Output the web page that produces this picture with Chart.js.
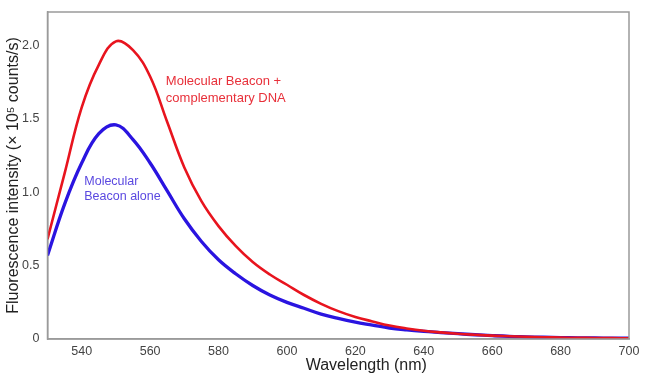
<!DOCTYPE html>
<html><head><meta charset="utf-8">
<script src="https://cdn.jsdelivr.net/npm/chart.js@4/dist/chart.umd.min.js"></script>
<style>html,body{margin:0;padding:0;background:#fff}#wrap{width:650px;height:382px;position:relative}</style>
</head><body><div id="wrap"><canvas id="c"></canvas></div>
<script>
const wavelengths = [530,535,540,545,550,555,560,565,570,575,580,585,590,595,600,605,610,615,620,625,630,635,640,645,650,655,660,665,670,675,680,685,690,695,700];
const hybridized = [0.68,1.13,1.58,1.87,2.03,1.97,1.79,1.48,1.17,0.94,0.77,0.635,0.525,0.44,0.37,0.30,0.24,0.19,0.15,0.12,0.092,0.072,0.056,0.045,0.036,0.029,0.023,0.019,0.015,0.012,0.010,0.008,0.007,0.006,0.005];
const beaconAlone = [0.57,0.92,1.20,1.40,1.46,1.36,1.20,1.01,0.82,0.665,0.54,0.445,0.365,0.30,0.25,0.21,0.17,0.14,0.115,0.095,0.075,0.062,0.052,0.044,0.036,0.029,0.023,0.018,0.015,0.012,0.010,0.008,0.007,0.006,0.005];
const xTicks = [540,560,580,600,620,640,660,680,700];
const yTicks = [0,0.5,1.0,1.5,2.0];
const xTitle = 'Wavelength (nm)';
const yTitle = 'Fluorescence intensity (× 10⁵ counts/s)';
const annotations = [
  {lines:["Molecular Beacon +","complementary DNA"], x:564.6, y:1.756, color:"#e8303a", size:13, gap:16.6},
  {lines:["Molecular","Beacon alone"], x:540.75, y:1.072, color:"#5a48e0", size:12.5, gap:15}
];

const FONT = "'Liberation Sans', Arial, sans-serif";
const labelPlugin = {
  id:'labels',
  afterDatasetsDraw(chart){
    const ctx = chart.ctx, xs = chart.scales.x, ys = chart.scales.y;
    ctx.save();
    ctx.textBaseline = "middle";
    ctx.textAlign = "left";
    annotations.forEach(a=>{
      ctx.font = a.size + "px " + FONT;
      const px = xs.getPixelForValue(a.x), py = ys.getPixelForValue(a.y);
      a.lines.forEach((t,i)=>{ ctx.fillStyle=a.color; ctx.fillText(t, px, py + i*a.gap); });
    });
    ctx.restore();
  },
  afterDraw(chart){
    const ca = chart.chartArea, ctx = chart.ctx;
    ctx.save();
    ctx.strokeStyle = "#9a9a9a"; ctx.lineWidth = 1.5;
    ctx.strokeRect(ca.left, ca.top, ca.right-ca.left, ca.bottom-ca.top);
    ctx.fillStyle = "#222";
    ctx.textAlign = "center"; ctx.textBaseline = "middle";
    ctx.font = "16px " + FONT;
    ctx.fillText(xTitle, (ca.left+ca.right)/2 + 28, 366);
    ctx.translate(14, (ca.top+ca.bottom)/2);
    ctx.rotate(-Math.PI/2);
    ctx.fillText(yTitle, 0, 0);
    ctx.restore();
  }
};

new Chart(document.getElementById('c'), {
  type:'line',
  data:{datasets:[
    {data: wavelengths.map((w,i)=>({x:w,y:hybridized[i]})), borderColor:'#e8141e', borderWidth:2.6, pointRadius:0, tension:0.4, fill:false},
    {data: wavelengths.map((w,i)=>({x:w,y:beaconAlone[i]})), borderColor:'#2a14e0', borderWidth:3.3, pointRadius:0, tension:0.4, fill:false}
  ]},
  options:{
    responsive:true, maintainAspectRatio:false, animation:false,
    devicePixelRatio:1,
    layout:{padding:{top:12,right:21,left:0,bottom:0}},
    plugins:{legend:{display:false}, tooltip:{enabled:false}},
    scales:{
      x:{type:'linear', min:530, max:700,
        afterBuildTicks(ax){ ax.ticks = xTicks.map(v=>({value:v})); },
        afterFit(ax){ ax.height = 43; },
        grid:{display:false, drawTicks:true, tickLength:4, color:'#9a9a9a'},
        border:{display:true, color:'#9a9a9a', width:1.5},
        ticks:{font:{family:FONT,size:12.5}, color:'#444', padding:1, maxRotation:0},
        title:{display:false}
      },
      y:{type:'linear', min:0, max:2.23,
        afterBuildTicks(ax){ ax.ticks = yTicks.map(v=>({value:v})); },
        afterFit(ax){ ax.width = 47.5; },
        grid:{display:false, drawTicks:true, tickLength:6, color:'#9a9a9a'},
        border:{display:true, color:'#9a9a9a', width:1.5},
        ticks:{font:{family:FONT,size:12.5}, color:'#444', padding:2,
          callback:(v)=> v===0 ? '0' : Number(v).toFixed(1)},
        title:{display:false}
      }
    }
  },
  plugins:[labelPlugin]
});
</script></body></html>
